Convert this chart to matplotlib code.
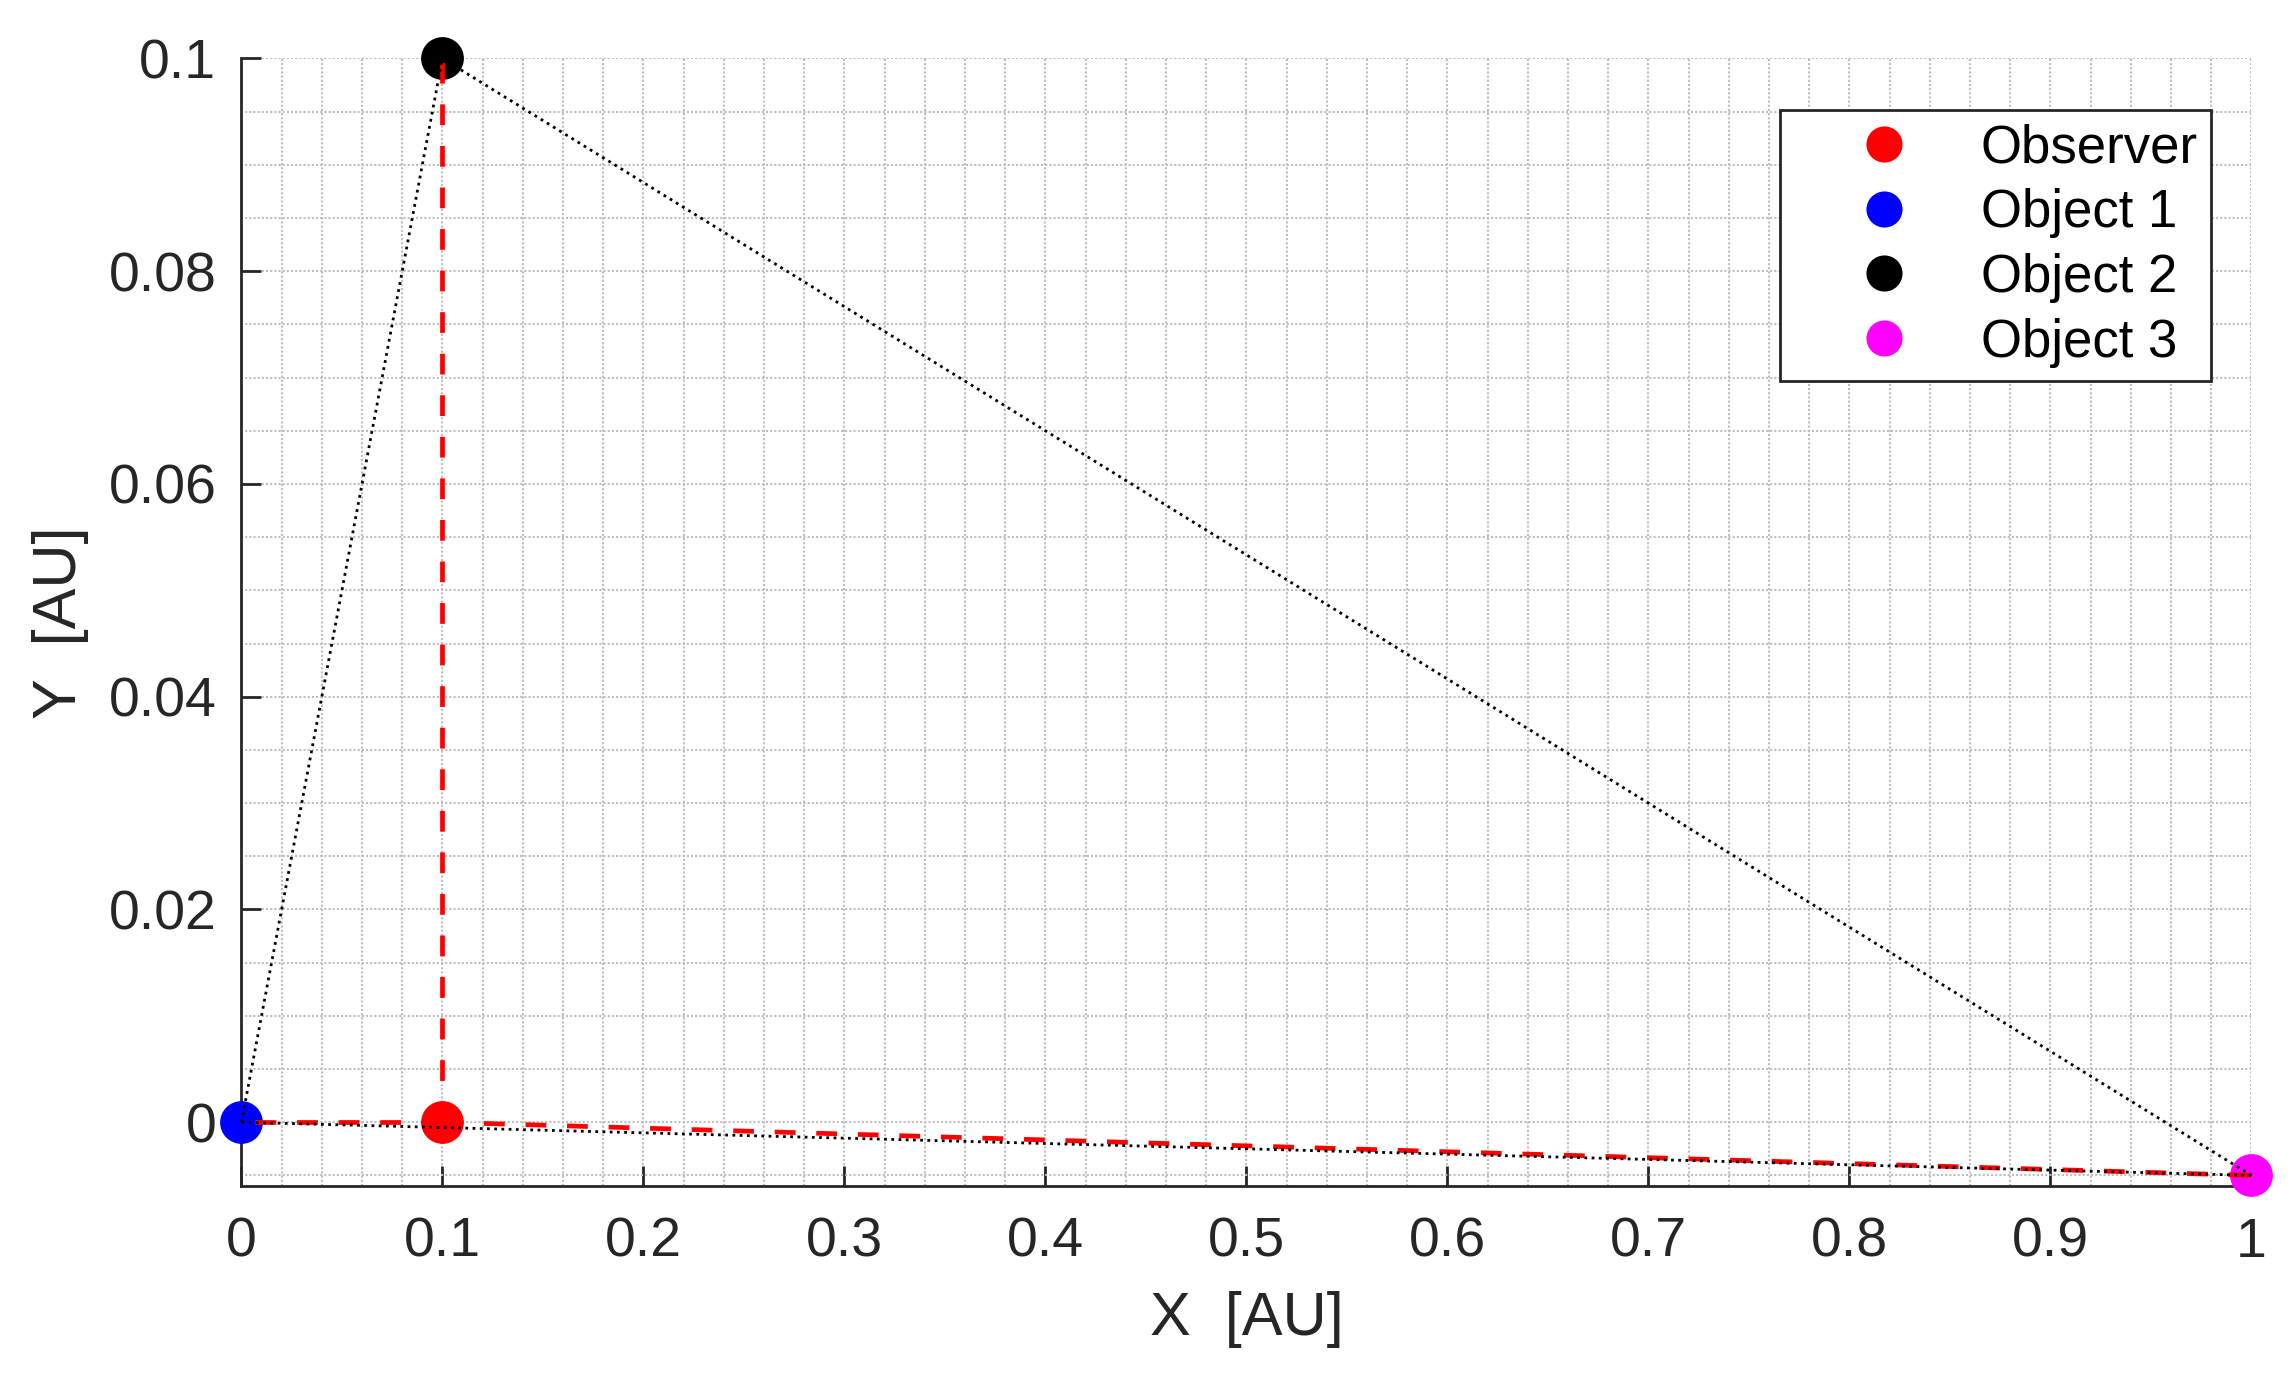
import numpy as np
import matplotlib
matplotlib.use('Agg')
import matplotlib.pyplot as plt
from matplotlib.ticker import MultipleLocator

plt.rcParams['font.family'] = ['Liberation Sans', 'DejaVu Sans']

# positions in AU
names = ['Observer', 'Object 1', 'Object 2', 'Object 3']
xs = [0.1, 0.0, 0.1, 1.0]
ys = [0.0, 0.0, 0.1, -0.005]
colors = ['#ff0000', '#0000ff', '#000000', '#ff00ff']

# observer -> each object (red dashed), triangle between objects (black dotted)
sight_lines = [(0, 1), (0, 2), (0, 3)]
triangle = [(1, 2), (2, 3), (3, 1)]

fig = plt.figure(figsize=(11.475, 6.94), dpi=200)
ax = fig.add_axes([0.1052, 0.1455, 0.8758, 0.8124])

for i in range(len(names)):
    ax.plot(xs[i], ys[i], 'o', color=colors[i], markersize=14.4, label=names[i],
            clip_on=False, zorder=3)

for a, b in sight_lines:
    ax.plot([xs[a], xs[b]], [ys[a], ys[b]], color='#ff0000', lw=1.7,
            linestyle=(0, (4.4, 4.4)), zorder=4, clip_on=False)

for a, b in triangle:
    ax.plot([xs[a], xs[b]], [ys[a], ys[b]], color='black', lw=1.0,
            linestyle=(0, (1, 1.6)), zorder=5, clip_on=False)

ax.set_xlim(0, 1)
ax.set_ylim(-0.006, 0.1)
ax.xaxis.set_minor_locator(MultipleLocator(0.02))
ax.yaxis.set_minor_locator(MultipleLocator(0.005))
ax.set_xticks(np.arange(0, 1.01, 0.1))
ax.set_xticklabels(['0', '0.1', '0.2', '0.3', '0.4', '0.5', '0.6', '0.7', '0.8', '0.9', '1'])
ax.set_yticks([0, 0.02, 0.04, 0.06, 0.08, 0.1])
ax.set_yticklabels(['0', '0.02', '0.04', '0.06', '0.08', '0.1'])

ax.grid(which='both', color='#bdbdbd', lw=0.75, linestyle=(0, (1, 1)))
ax.set_axisbelow(True)

for side in ['top', 'right']:
    ax.spines[side].set_visible(False)
for side in ['left', 'bottom']:
    ax.spines[side].set_linewidth(1.0)
    ax.spines[side].set_color('#262626')

ax.tick_params(which='major', direction='in', length=7.2, width=1.0, colors='#262626',
               labelsize=20)
ax.tick_params(axis='x', pad=11)
ax.tick_params(axis='y', pad=9)
ax.tick_params(which='minor', length=0)

ax.set_xlabel('X  [AU]', fontsize=22, color='#262626', labelpad=8)
ax.set_ylabel('Y  [AU]', fontsize=22, color='#262626', labelpad=7)

leg = ax.legend(loc='upper right', bbox_to_anchor=(0.9634, 0.9207), bbox_transform=fig.transFigure,
                borderaxespad=0, fontsize=19, markerscale=12 / 14.4, handlelength=3.44,
                handletextpad=0.11, borderpad=0.25, labelspacing=0.28, fancybox=False,
                framealpha=1, edgecolor='#262626')
leg.get_frame().set_linewidth(1.0)

fig.savefig('out.png', dpi=200)
